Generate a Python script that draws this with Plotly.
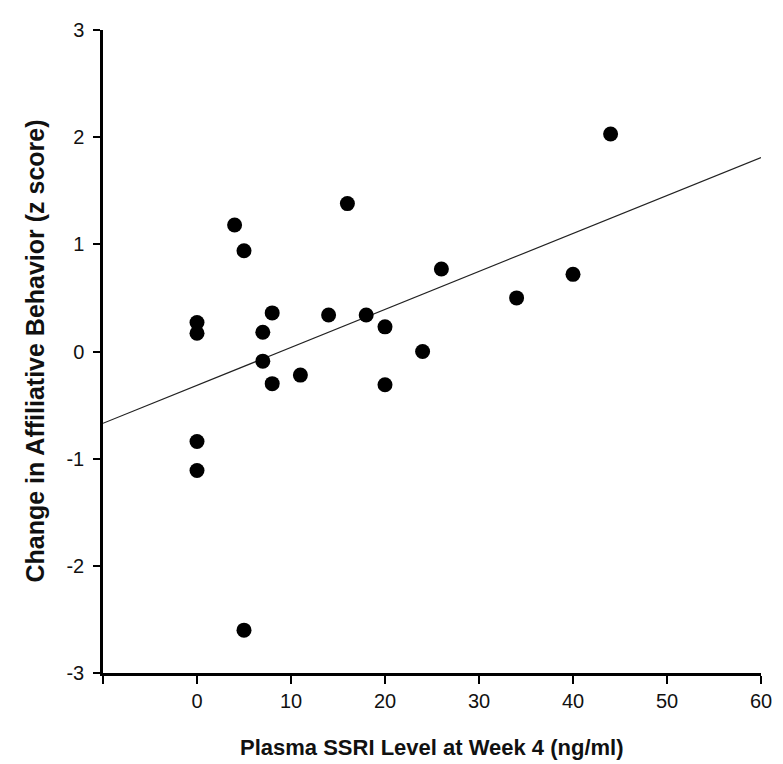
import plotly.graph_objects as go

ssri_level = [0, 0, 0, 0, 4, 5, 5, 7, 7, 8, 8, 11, 14, 16, 18, 20, 20, 24, 26, 34, 40, 44]
affil_change = [0.27, 0.17, -0.84, -1.11, 1.18, 0.94, -2.60, 0.18, -0.09, 0.36, -0.30, -0.22,
                0.34, 1.38, 0.34, 0.23, -0.31, 0.00, 0.77, 0.50, 0.72, 2.03]

fit_x = [-10, 60]
fit_y = [-0.67, 1.81]

x_tickvals = [-10, 0, 10, 20, 30, 40, 50, 60]
x_ticktext = ["", "0", "10", "20", "30", "40", "50", "60"]
y_tickvals = [-3, -2, -1, 0, 1, 2, 3]
y_ticktext = ["-3", "-2", "-1", "0", "1", "2", "3"]

FONT = "Liberation Sans, Arial, Helvetica, sans-serif"

fig = go.Figure()
fig.add_trace(go.Scatter(x=fit_x, y=fit_y, mode="lines",
                         line=dict(color="#222222", width=1.2),
                         hoverinfo="skip", showlegend=False))
fig.add_trace(go.Scatter(x=ssri_level, y=affil_change, mode="markers",
                         marker=dict(color="black", size=15),
                         cliponaxis=False, showlegend=False))

fig.update_layout(
    width=775, height=756,
    margin=dict(l=95, r=22, t=11, b=91),
    paper_bgcolor="white", plot_bgcolor="white",
    font=dict(family=FONT, color="#111111", size=20),
    xaxis=dict(range=[-10, 60], tickvals=x_tickvals, ticktext=x_ticktext,
               showgrid=False, zeroline=False, showline=True, linecolor="black",
               linewidth=2.5, ticks="outside", ticklen=8, tickwidth=1.5, tickcolor="black",
               tickfont=dict(size=20), ticklabelstandoff=0),
    yaxis=dict(range=[-3, 3], tickvals=y_tickvals, ticktext=y_ticktext,
               showgrid=False, zeroline=False, showline=True, linecolor="black",
               linewidth=2.5, ticks="outside", ticklen=7, tickwidth=1.5, tickcolor="black",
               tickfont=dict(size=20), ticklabelstandoff=5),
    annotations=[
        dict(text="<b>Plasma SSRI Level at Week 4 (ng/ml)</b>", xref="paper", yref="paper",
             x=0.5, y=0, xanchor="center", yanchor="middle", yshift=-74,
             showarrow=False, font=dict(size=22)),
        dict(text="<b>Change in Affiliative Behavior (z score)</b>", xref="paper", yref="paper",
             x=0, y=0.5, xanchor="center", yanchor="middle", xshift=-69, textangle=-90,
             showarrow=False, font=dict(size=25)),
    ],
)

fig.write_html("out.html")
